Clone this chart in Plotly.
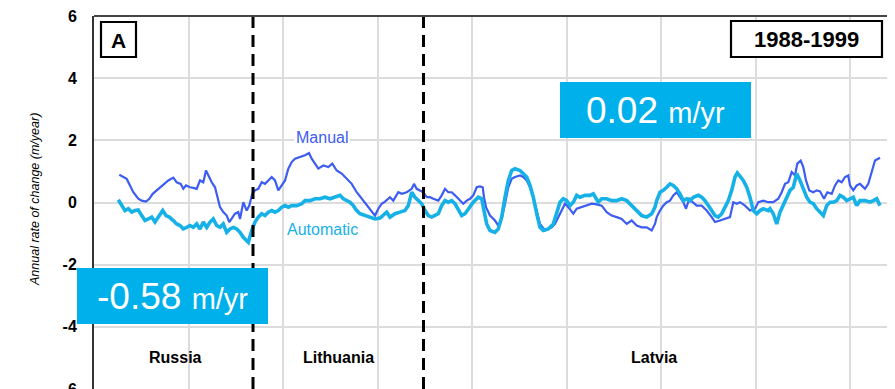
import plotly.graph_objects as go

# ---- data (distance along coast, arbitrary units; rate in m/year) ----
manual_dist = [25.3, 29.3, 32.7, 36, 39.3, 44.3, 47.7, 52, 55.3, 58.7, 62.7, 66, 69.3, 74.3, 79.3, 82.7, 86.7, 89.3, 92, 96,
               99.3, 102.7, 106, 109.3, 112, 114.3, 117.7, 121, 123.3, 126, 129.3, 132.7, 135.3, 137.7, 141, 144.3, 146, 149.3,
               152.7, 155.3, 158.3, 161, 164.3, 167.7, 171, 174.3, 177.7, 181, 184.3, 187.7, 191, 194.3, 197.7, 201, 206, 211,
               215, 217.7, 221, 224.3, 229.3, 234.3, 238.3, 242.7, 247.7, 252.7, 257.7, 262.7, 267.7, 272.7, 277.7, 281, 284.3,
               287.7, 291, 296, 299.3, 304.3, 307.7, 312.7, 317.7, 320, 322.7, 326, 329.3, 332.7, 336, 339.3, 344.3, 347.7, 351,
               354.3, 357.7, 361, 366, 369.3, 372.7, 376, 379.3, 382.7, 386, 388.7, 390, 392, 396, 401, 404.3, 407.7, 411, 414.3,
               417.7, 421, 426, 429.3, 432.7, 436, 439.3, 442.7, 446, 451, 454.3, 457.7, 461, 464.3, 467.7, 471, 474.3, 479.3,
               482.7, 487.7, 492.7, 497.7, 502.7, 507.7, 512.7, 517.7, 522.7, 527.7, 532.7, 537.7, 542.7, 547.7, 552.7, 557.7,
               561, 562.7, 566, 569.3, 572.7, 576, 579.3, 582.7, 586, 589.3, 592, 595.3, 598.7, 602.7, 607.7, 612.7, 617.7, 621,
               626, 631, 636, 639.3, 642.7, 646, 651, 656, 661, 664.3, 669.3, 674.3, 679.3, 684.3, 687.7, 691, 694.3, 697.7, 701,
               703.3, 706.7, 709.3, 712, 715.3, 719.3, 722.7, 726, 730, 733.3, 737.7, 741, 744.3, 747.7, 751, 754.3, 756, 759.3,
               762.7, 766, 771, 774.3, 777.7, 781, 786]
manual_rate = [0.89, 0.82, 0.76, 0.55, 0.33, 0.12, 0.06, 0.03, 0.12, 0.28, 0.39, 0.49, 0.6, 0.71, 0.8, 0.65, 0.6, 0.44, 0.55, 0.49,
               0.47, 0.44, 0.71, 0.65, 1.03, 0.87, 0.65, 0.49, 0.23, -0.15, -0.31, -0.42, -0.63, -0.53, -0.36, -0.31, -0.53, 0.01,
               -0.26, -0.1, 0.28, 0.39, 0.44, 0.65, 0.6, 0.71, 0.82, 0.71, 0.39, 0.55, 0.71, 1.09, 1.3, 1.41, 1.46, 1.52,
               1.59, 1.41, 1.25, 1.09, 1.19, 1.14, 1.25, 1.03, 0.93, 0.76, 0.6, 0.33, 0.12, -0.1, -0.31, -0.42, -0.2,
               -0.04, 0.03, 0.17, 0.06, 0.33, 0.28, 0.33, 0.44, 0.6, 0.44, 0.39, 0.33, 0.17, 0.17, 0.12, 0.06, 0.23, 0.44,
               0.33, 0.33, 0.23, 0.06, -0.04, 0.06, 0.12, 0.23, 0.49, 0.52, 0.49, 0.17, -0.15, -0.42, -0.58, -0.74, -0.53, -0.04, 0.49,
               0.76, 0.82, 0.87, 0.82, 0.71, 0.49, 0.17, -0.26, -0.69, -0.9, -0.85, -0.8, -0.69, -0.47, -0.26, -0.04, -0.15, -0.36,
               -0.2, -0.15, -0.1, -0.04, -0.06, -0.1, -0.31, -0.42, -0.47, -0.53, -0.69, -0.58, -0.74, -0.8, -0.8, -0.9,
               -0.69, -0.47, -0.26, -0.1, 0.01, 0.06, 0.23, 0.33, 0.17, 0.01, -0.2, 0.12, 0.01, -0.1, -0.1, -0.26, -0.47, -0.63,
               -0.58, -0.53, -0.47, 0.01, -0.04, 0.01, -0.1, -0.26, -0.2, 0.01, 0.06, 0.01, 0.01, 0.12, 0.33, 0.6, 0.65, 0.98, 0.87,
               1.25, 1.35, 1.14, 0.71, 0.39, 0.33, 0.39, 0.36, 0.12, 0.33, 0.28, 0.55, 0.71, 0.65, 0.82, 0.87, 0.55, 0.39,
               0.55, 0.6, 0.44, 0.6, 0.98, 1.35, 1.44]

auto_dist = [24.3, 27.7, 31, 34.3, 37.7, 41, 44.3, 47.7, 51, 54.3, 57.7, 61, 64.3, 68.7, 72, 75.3, 79.3, 82.7, 86, 89.3, 92.7,
             96, 99.3, 102.7, 106, 109.3, 112.7, 116, 119.3, 122.7, 126, 129.3, 132.7, 136, 139.3, 142.7, 146, 149.3, 152.7,
             154.3, 157.7, 161, 164.3, 167.7, 171, 174.3, 177.7, 181, 184.3, 187.7, 191, 194.3, 197.7, 202.7, 207.7, 211, 216,
             221, 226, 231, 236, 241, 246, 249.3, 252.7, 256, 259.3, 262.7, 266, 271, 276, 281, 286, 289.3, 292.7, 296, 301,
             306, 311, 314.3, 317.7, 321, 324.3, 327.7, 331, 334.3, 337.7, 341, 344.3, 347.7, 351, 354.3, 357.7, 361, 364.3,
             367.7, 371, 374.3, 379.3, 384.3, 387.7, 390, 392.7, 396, 401, 404.3, 407.7, 411, 414.3, 417.7, 421, 426, 429.3,
             432.7, 436, 439.3, 442.7, 446, 449.3, 454.3, 459.3, 462.7, 466, 469.3, 472.7, 476, 479.3, 482.7, 486, 491, 496,
             499.3, 504.3, 507.7, 512.7, 517.7, 522.7, 527.7, 532.7, 537.7, 542.7, 547.7, 552.7, 557.7, 561, 562.7, 566, 569.3,
             572.7, 576, 579.3, 582.7, 586, 589.3, 592.7, 596, 599.3, 604.3, 607.7, 611, 614.3, 617.7, 621, 624.3, 627.7, 631,
             634.3, 637.7, 641, 643.3, 646, 649.3, 652.7, 656, 659.3, 662.7, 666, 669.3, 674.3, 676, 679.3, 682.7, 686, 689.3,
             692.7, 696, 699.3, 702.7, 706, 709.3, 712.7, 716, 719.3, 722.7, 726, 729.3, 732.7, 736, 739.3, 742.7, 746, 749.3,
             752.7, 756, 759.3, 762.7, 766, 771, 776, 779.3, 782.7, 786]
auto_rate = [0.09, -0.1, -0.26, -0.2, -0.31, -0.26, -0.24, -0.42, -0.58, -0.53, -0.47, -0.63, -0.47, -0.26, -0.42, -0.47, -0.58,
             -0.69, -0.74, -0.85, -0.8, -0.74, -0.8, -0.69, -0.85, -0.63, -0.8, -0.63, -0.53, -0.74, -0.8, -0.69, -0.96, -0.85,
             -0.8, -0.85, -0.96, -1.12, -1.23, -1.28, -0.9, -0.63, -0.47, -0.36, -0.42, -0.31, -0.26, -0.31, -0.26, -0.15, -0.1,
             -0.15, -0.1, -0.1, -0.04, 0.06, 0.06, 0.12, 0.12, 0.17, 0.12, 0.17, 0.23, 0.12, 0.06, 0.01, -0.1, -0.26, -0.36,
             -0.42, -0.47, -0.53, -0.5, -0.42, -0.31, -0.47, -0.36, -0.31, -0.26, -0.1, 0.33, 0.17, 0.06, -0.04, -0.26, -0.42,
             -0.47, -0.42, -0.36, -0.1, 0.06, 0.01, 0.06, -0.04, -0.26, -0.42, -0.36, -0.2, 0.01, 0.17, 0.12, -0.26, -0.69,
             -0.9, -0.96, -0.85, -0.47, 0.17, 0.71, 1.03, 1.09, 1.03, 0.93, 0.82, 0.55, 0.17, -0.36, -0.8, -0.9, -0.85, -0.69,
             -0.36, 0.01, 0.12, 0.06, -0.1, 0.01, 0.23, 0.17, 0.23, 0.23, 0.28, 0.01, 0.12, 0.12, 0.06, 0.06, 0.12, 0.06, -0.1,
             -0.26, -0.42, -0.47, -0.36, -0.15, 0.06, 0.33, 0.39, 0.49, 0.6, 0.55, 0.44, 0.28, 0.06, 0.12, 0.06, 0.17, 0.23,
             0.17, 0.06, -0.1, -0.26, -0.42, -0.47, -0.36, -0.15, 0.06, 0.39, 0.82, 0.95, 0.82, 0.71, 0.49, 0.17, -0.26, -0.36,
             -0.26, -0.2, -0.26, -0.2, -0.36, -0.69, -0.31, -0.1, 0.17, 0.39, 0.49, 0.93, 0.71, 0.44, 0.17, 0.01, -0.04, -0.2,
             -0.31, -0.42, -0.1, 0.01, 0.01, 0.06, 0.23, 0.17, 0.06, 0.12, 0.17, -0.1, 0.06, 0.06, 0.01, 0.06, 0.12, -0.1]

border_dist = [159, 329.5]
regions = ["Russia", "Lithuania", "Latvia"]
region_dist = [81, 244.3, 560]
y_ticks = [-6, -4, -2, 0, 2, 4, 6]
period_label = "1988-1999"
panel_label = "A"
trend_labels = ["-0.58", "0.02"]

FONT = "Liberation Sans, Arial, Helvetica, sans-serif"
MANUAL_C = "#3c5cf2"
AUTO_C = "#15b1e7"
BOX_C = "#00b0ea"

fig = go.Figure()
fig.add_trace(go.Scatter(x=manual_dist, y=manual_rate, mode="lines",
                         line=dict(color=MANUAL_C, width=2.2), name="Manual"))
fig.add_trace(go.Scatter(x=auto_dist, y=auto_rate, mode="lines",
                         line=dict(color=AUTO_C, width=3.6), name="Automatic"))

# page body has an 8px margin; figure is sized to fit inside the window
OFF = 8
W, H = 895 - OFF, 389 - OFF
# plot area in screen pixels
SX0, SX1, SY0, SY1 = 94, 887, 16, 389
L, T = SX0 - OFF, SY0 - OFF
R, B = W - (SX1 - OFF), H - (SY1 - OFF)
pw, ph = SX1 - SX0, SY1 - SY0


def px2paper(sx, sy):
    return (sx - SX0) / pw, (SY1 - sy) / ph


shapes = []
for b in border_dist:
    shapes.append(dict(type="line", xref="x", yref="paper", x0=b, x1=b, y0=0, y1=1,
                       line=dict(color="black", width=3, dash="12px,7px")))
shapes.append(dict(type="line", xref="paper", yref="paper", x0=0, x1=1, y0=1, y1=1,
                   line=dict(color="#444", width=2)))


def rect(x0, y0, x1, y1, fill, line_c=None, lw=0):
    a0, b0 = px2paper(x0, y1)
    a1, b1 = px2paper(x1, y0)
    d = dict(type="rect", xref="paper", yref="paper", x0=a0, x1=a1, y0=b0, y1=b1,
             fillcolor=fill, layer="above")
    d["line"] = dict(color=line_c, width=lw) if line_c else dict(width=0)
    return d


shapes.append(rect(101, 22, 136, 57, "white", "black", 2.2))
shapes.append(rect(731, 21, 882, 57, "white", "black", 2.2))
shapes.append(rect(77, 268, 268, 324, BOX_C))
shapes.append(rect(560, 82, 751, 138, BOX_C))

annotations = []


def ann(sx, sy, text, size, color="black", bold=False, italic=False, bg=None, angle=0):
    x, y = px2paper(sx, sy)
    d = dict(xref="paper", yref="paper", x=x, y=y, text=text, showarrow=False,
             xanchor="center", yanchor="middle", textangle=angle,
             font=dict(family=FONT, size=size, color=color,
                       weight="bold" if bold else "normal",
                       style="italic" if italic else "normal"))
    if bg:
        d["bgcolor"] = bg
    annotations.append(d)


ann(118.5, 40, panel_label, 21, bold=True)
ann(806.5, 39.5, period_label, 22, bold=True)
ann(172.5, 296.5, trend_labels[0] + " <span style='font-size:29px'>m/yr</span>", 37, color="white")
ann(655.5, 110.5, trend_labels[1] + " <span style='font-size:29px'>m/yr</span>", 37, color="white")
ann(321.5, 137, "Manual", 16, color=MANUAL_C, bg="white")
ann(322, 229.5, "Automatic", 16, color=AUTO_C)
for name, d in zip(regions, region_dist):
    annotations.append(dict(xref="x", yref="paper", x=d, y=px2paper(0, 357.5)[1], text=name,
                            showarrow=False, xanchor="center", yanchor="middle",
                            font=dict(family=FONT, size=16, color="black", weight="bold")))
ann(35, 200, "Annual rate of change (m/year)", 12.5, italic=True, angle=-90)

fig.update_layout(
    width=W, height=H,
    margin=dict(l=L, r=R, t=T, b=B, pad=0, autoexpand=False),
    paper_bgcolor="white", plot_bgcolor="white",
    showlegend=False,
    shapes=shapes, annotations=annotations,
    xaxis=dict(range=[0, pw], tick0=0, dtick=94.5, showgrid=True, gridcolor="#dcdcdc", gridwidth=1.5,
               showticklabels=False, ticks="", zeroline=False, showline=False, fixedrange=True),
    yaxis=dict(range=[-6, 6], tickvals=y_ticks, ticktext=[str(v) for v in y_ticks],
               showgrid=True, gridcolor="#dcdcdc", gridwidth=1.5, zeroline=False,
               showline=True, mirror=True, linecolor="#333", linewidth=2,
               ticks="", ticklabelstandoff=12, ticklabeloverflow="allow",
               tickfont=dict(family=FONT, size=16, color="black", weight="bold"), fixedrange=True),
)

fig.write_html("out.html")
